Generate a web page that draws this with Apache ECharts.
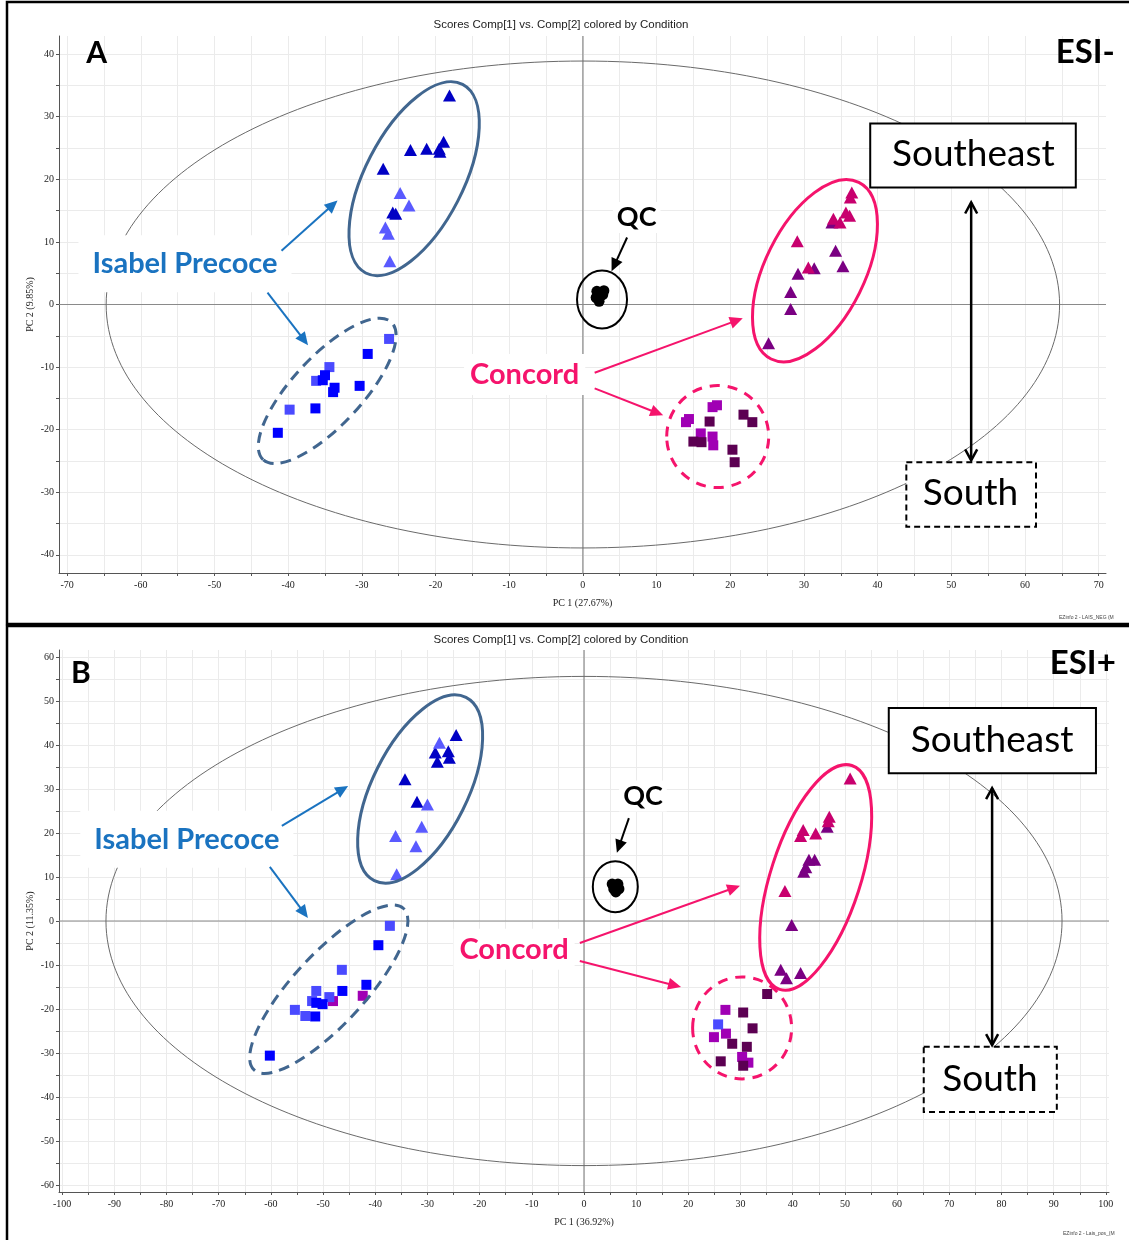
<!DOCTYPE html>
<html>
<head>
<meta charset="utf-8">
<script src="https://cdn.jsdelivr.net/npm/echarts@6/dist/echarts.min.js"></script>
<style>
  html, body { margin: 0; padding: 0; background: #fff; }
  #chart { width: 1129px; height: 1240px; }
</style>
</head>
<body>
<div id="chart"></div>
<script>
// ---------- Panel A : ESI- (PC1 27.67 %, PC2 9.85 %) ----------
const aIsabelTriDark  = [[-18.1,33.4],[-18.9,26.0],[-19.5,24.9],[-21.2,24.9],[-23.4,24.7],[-19.4,24.4],[-27.1,21.7],[-25.8,14.7],[-25.4,14.5]];
const aIsabelTriLight = [[-24.8,17.8],[-23.6,15.8],[-26.8,12.3],[-26.4,11.3],[-26.2,6.9]];
const aIsabelSqBlue   = [[-29.2,-7.9],[-35.0,-11.3],[-35.3,-12.1],[-33.7,-13.3],[-33.9,-14.0],[-30.3,-13.0],[-36.3,-16.6],[-41.4,-20.5]];
const aIsabelSqLight  = [[-26.3,-5.5],[-34.4,-10.0],[-36.2,-12.2],[-39.8,-16.8]];
const aConcordTriPurple  = [[33.8,13.1],[34.3,8.6],[31.4,5.8],[29.2,4.9],[35.3,6.1],[28.2,2.0],[28.2,-0.7],[25.2,-6.2]];
const aConcordTriCrimson = [[36.5,17.9],[36.3,17.1],[35.7,14.7],[36.2,14.2],[34.0,13.7],[34.9,13.1],[29.1,10.1],[30.6,5.9]];
const aConcordSqMagenta  = [[18.2,-16.1],[17.6,-16.4],[14.4,-18.3],[14.0,-18.8],[16.0,-20.6],[17.6,-21.1],[17.7,-22.5]];
const aConcordSqDark     = [[17.2,-18.7],[21.8,-17.6],[23.0,-18.8],[15.0,-21.9],[16.1,-22.0],[20.3,-23.2],[20.6,-25.2]];
const aQC = [[1.9,2.1],[2.85,2.2],[2.4,1.4],[1.8,1.1],[2.2,0.5],[2.7,1.6]];

// ---------- Panel B : ESI+ (PC1 36.92 %, PC2 11.35 %) ----------
const bIsabelTriDark  = [[-24.5,42.3],[-28.5,38.3],[-26.0,38.6],[-25.8,37.1],[-28.1,36.2],[-34.3,32.2],[-32.0,27.1]];
const bIsabelTriLight = [[-27.7,40.5],[-30.0,26.5],[-31.1,21.4],[-36.1,19.3],[-32.2,17.0],[-35.9,10.6]];
const bIsabelSqMagenta = [[-42.4,-17.0],[-48.1,-18.2]];
const bIsabelSqBlue   = [[-39.4,-5.5],[-41.7,-14.5],[-46.3,-15.9],[-51.3,-18.6],[-50.1,-18.9],[-51.5,-21.7],[-60.2,-30.6]];
const bIsabelSqLight  = [[-37.2,-1.1],[-46.4,-11.1],[-48.8,-17.3],[-51.3,-15.9],[-52.1,-18.2],[-55.4,-20.2],[-53.4,-21.6]];
const bConcordTriPurple  = [[46.6,21.4],[44.2,13.9],[43.1,13.9],[42.5,12.2],[42.1,11.2],[39.8,-0.9],[37.7,-11.1],[38.8,-13.0],[41.5,-11.8]];
const bConcordTriCrimson = [[51.0,32.4],[47.0,23.7],[46.8,22.7],[44.4,19.9],[42.0,20.7],[41.5,19.3],[38.5,6.8]];
const bConcordSqMagenta  = [[27.1,-20.2],[27.2,-25.6],[24.9,-26.4],[30.3,-30.9],[31.5,-32.2]];
const bConcordSqDark     = [[35.1,-16.6],[30.5,-20.8],[32.3,-24.4],[28.4,-27.9],[31.2,-28.6],[30.5,-32.9],[26.2,-31.9]];
const bConcordSqLight    = [[25.7,-23.5]];
const bQC = [[5.4,8.4],[6.5,8.4],[5.7,7.3],[6.7,7.3],[6.1,6.6]];

// ---------- axis ticks and labels ----------
const xLabelsA = [-70,-60,-50,-40,-30,-20,-10,0,10,20,30,40,50,60,70];
const xTicksA  = [-70,-65,-60,-55,-50,-45,-40,-35,-30,-25,-20,-15,-10,-5,0,5,10,15,20,25,30,35,40,45,50,55,60,65,70];
const yLabelsA = [-40,-30,-20,-10,0,10,20,30,40];
const yTicksA  = [-40,-35,-30,-25,-20,-15,-10,-5,0,5,10,15,20,25,30,35,40];
const xLabelsB = [-100,-90,-80,-70,-60,-50,-40,-30,-20,-10,0,10,20,30,40,50,60,70,80,90,100];
const xTicksB  = [-100,-95,-90,-85,-80,-75,-70,-65,-60,-55,-50,-45,-40,-35,-30,-25,-20,-15,-10,-5,0,5,10,15,20,25,30,35,40,45,50,55,60,65,70,75,80,85,90,95,100];
const yLabelsB = [-60,-50,-40,-30,-20,-10,0,10,20,30,40,50,60];
const yTicksB  = [-60,-55,-50,-45,-40,-35,-30,-25,-20,-15,-10,-5,0,5,10,15,20,25,30,35,40,45,50,55,60];

// Hotelling T2 ellipse semi-axes (score units)
const hotellingA = [64.7, 38.9];
const hotellingB = [91.6, 55.6];

// ---------- colours ----------
const C = {
  triDark: '#0000c4', triLight: '#5a5aff',
  sqBlue: '#0000ff', sqLight: '#4a4aff',
  crimson: '#c8006e', purple: '#7a0082',
  magenta: '#a000b4', darkPurple: '#5c0052',
  cluster: '#41668f', concord: '#f5146c', isabel: '#1a73c0'
};
const LABEL_FONT = 'Lato, "Liberation Sans", sans-serif';

// ---------- annotation layouts (anchored in score coordinates) ----------
const annotA = {
  ellipses: [
    { c: [-22.9, 20.1], rx: 106, ry: 49,  rot: 62.8, color: C.cluster, w: 3 },
    { c: [-34.7, -13.8], rx: 94, ry: 34.5, rot: 47, color: C.cluster, w: 3, dash: [11, 7] },
    { c: [31.5, 5.4],  rx: 98.6, ry: 49.7, rot: 63.6, color: C.concord, w: 3 },
    { c: [18.3, -21.1], rx: 51, ry: 51, rot: 0, color: C.concord, w: 3, dash: [10, 8] },
    { c: [2.6, 0.8], rx: 25, ry: 29, rot: 0, color: '#000', w: 2 }
  ],
  boxes: [
    { from: [39.0, 28.9], to: [66.9, 18.7] },
    { from: [43.9, -25.2], to: [61.5, -35.5], dash: [6, 4] }
  ],
  labels: [
    { text: 'A', at: [-66.0, 40.1], size: 30, bold: true, color: '#000' },
    { text: 'ESI-', at: [72.2, 40.3], size: 33, bold: true, color: '#000', align: 'right' },
    { text: 'Isabel Precoce', at: [-54.0, 6.5], size: 29, bold: true, color: C.isabel, bg: true, pad: [14, 14] },
    { text: 'QC', at: [7.3, 13.9], size: 27, bold: true, color: '#000', bg: true, pad: [2, 4] },
    { text: 'Concord', at: [-7.9, -11.2], size: 29, bold: true, color: C.concord, bg: true, pad: [6, 6] },
    { text: 'Southeast', at: [53.0, 24.0], size: 37, color: '#000' },
    { text: 'South', at: [52.6, -30.2], size: 37, color: '#000' }
  ],
  arrows: [
    { from: [-40.9, 8.6], to: [-33.3, 16.6], color: C.isabel },
    { from: [-42.8, 1.9], to: [-37.3, -6.5], color: C.isabel },
    { from: [6.0, 10.7], to: [3.9, 5.3], color: '#000' },
    { from: [1.6, -10.9], to: [21.7, -2.2], color: C.concord },
    { from: [1.6, -13.4], to: [10.9, -17.7], color: C.concord },
    { from: [52.7, 16.3], to: [52.7, -24.9], color: '#000', both: true }
  ]
};

const annotB = {
  ellipses: [
    { c: [-31.4, 30.0], rx: 102.4, ry: 47.5, rot: 63.4, color: C.cluster, w: 3 },
    { c: [-48.9, -15.5], rx: 110, ry: 35.4, rot: 47.2, color: C.cluster, w: 3, dash: [11, 7] },
    { c: [44.4, 9.9], rx: 117.6, ry: 44.9, rot: 72.1, color: C.concord, w: 3 },
    { c: [30.3, -24.3], rx: 49.5, ry: 51, rot: 0, color: C.concord, w: 3, dash: [10, 8] },
    { c: [6.0, 7.8], rx: 22.5, ry: 25.5, rot: 0, color: '#000', w: 2 }
  ],
  boxes: [
    { from: [58.4, 48.4], to: [98.1, 33.6] },
    { from: [65.1, -28.6], to: [90.6, -43.4], dash: [6, 4] }
  ],
  labels: [
    { text: 'B', at: [-96.4, 56.4], size: 30, bold: true, color: '#000' },
    { text: 'ESI+', at: [101.9, 58.6], size: 33, bold: true, color: '#000', align: 'right' },
    { text: 'Isabel Precoce', at: [-76.1, 18.6], size: 29, bold: true, color: C.isabel, bg: true, pad: [14, 14] },
    { text: 'QC', at: [11.3, 28.4], size: 27, bold: true, color: '#000', bg: true, pad: [2, 4] },
    { text: 'Concord', at: [-13.4, -6.4], size: 29, bold: true, color: C.concord, bg: true, pad: [6, 6] },
    { text: 'Southeast', at: [78.2, 41.1], size: 37, color: '#000' },
    { text: 'South', at: [77.8, -35.9], size: 37, color: '#000' }
  ],
  arrows: [
    { from: [-57.9, 21.6], to: [-45.2, 30.7], color: C.isabel },
    { from: [-60.2, 12.3], to: [-52.9, 0.7], color: C.isabel },
    { from: [8.6, 23.4], to: [6.3, 15.5], color: '#000' },
    { from: [-0.8, -5.0], to: [29.9, 8.0], color: C.concord },
    { from: [-0.8, -9.1], to: [18.6, -15.0], color: C.concord },
    { from: [78.2, 30.2], to: [78.2, -28.2], color: '#000', both: true }
  ]
};

// ---------- drawing helpers ----------
function ellipseEl(api, e) {
  const c = api.coord(e.c);
  return {
    type: 'ellipse', x: c[0], y: c[1], rotation: e.rot * Math.PI / 180,
    shape: { cx: 0, cy: 0, rx: e.rx, ry: e.ry },
    style: { fill: 'none', stroke: e.color, lineWidth: e.w, lineDash: e.dash || null }
  };
}
function boxEl(api, b) {
  const p = api.coord(b.from), q = api.coord(b.to);
  return {
    type: 'rect',
    shape: { x: Math.min(p[0], q[0]), y: Math.min(p[1], q[1]), width: Math.abs(q[0] - p[0]), height: Math.abs(q[1] - p[1]) },
    style: { fill: '#fff', stroke: '#000', lineWidth: 2, lineDash: b.dash || null }
  };
}
function labelEl(api, l) {
  const c = api.coord(l.at);
  const st = {
    text: l.text, fill: l.color, align: l.align || 'center', verticalAlign: 'middle',
    font: (l.bold ? 'bold ' : '') + l.size + 'px ' + LABEL_FONT
  };
  if (l.bg) { st.backgroundColor = '#fff'; st.padding = l.pad; }
  return { type: 'text', x: c[0], y: c[1], style: st };
}
function headPoints(tip, ang, len, half) {
  const bx = tip[0] - Math.cos(ang) * len, by = tip[1] - Math.sin(ang) * len;
  const px = -Math.sin(ang) * half, py = Math.cos(ang) * half;
  return [[tip[0], tip[1]], [bx + px, by + py], [bx - px, by - py]];
}
function arrowEls(api, a) {
  const p0 = api.coord(a.from), p1 = api.coord(a.to);
  const ang = Math.atan2(p1[1] - p0[1], p1[0] - p0[0]);
  const els = [];
  if (a.both) {
    els.push({ type: 'line', shape: { x1: p0[0], y1: p0[1], x2: p1[0], y2: p1[1] },
      style: { stroke: a.color, lineWidth: 2.5 } });
    const h1 = headPoints(p1, ang, 11, 6), h0 = headPoints(p0, ang + Math.PI, 11, 6);
    [h0, h1].forEach(h => els.push({ type: 'polyline', shape: { points: [h[1], h[0], h[2]] },
      style: { stroke: a.color, lineWidth: 2.5, fill: 'none' } }));
  } else {
    const len = 13, half = 6;
    const ex = p1[0] - Math.cos(ang) * len * 0.8, ey = p1[1] - Math.sin(ang) * len * 0.8;
    els.push({ type: 'line', shape: { x1: p0[0], y1: p0[1], x2: ex, y2: ey },
      style: { stroke: a.color, lineWidth: 2 } });
    els.push({ type: 'polygon', shape: { points: headPoints(p1, ang, len, half) },
      style: { fill: a.color } });
  }
  return els;
}

// zero lines + Hotelling ellipse, beneath the scores
function baseLayer(hot, xr, yr) {
  return function (params, api) {
    const o = api.coord([0, 0]);
    const ax = api.coord([hot[0], 0]), ay = api.coord([0, hot[1]]);
    const l = api.coord([xr[0], 0]), r = api.coord([xr[1], 0]);
    const t = api.coord([0, yr[1]]), b = api.coord([0, yr[0]]);
    return { type: 'group', children: [
      { type: 'line', shape: { x1: l[0], y1: o[1], x2: r[0], y2: o[1] }, style: { stroke: '#8a8a8a', lineWidth: 1.2 } },
      { type: 'line', shape: { x1: o[0], y1: t[1], x2: o[0], y2: b[1] }, style: { stroke: '#8a8a8a', lineWidth: 1.2 } },
      { type: 'ellipse', shape: { cx: o[0], cy: o[1], rx: Math.abs(ax[0] - o[0]), ry: Math.abs(ay[1] - o[1]) },
        style: { fill: 'none', stroke: '#6a6a6a', lineWidth: 1 } }
    ] };
  };
}
function annotationLayer(spec) {
  return function (params, api) {
    const children = [];
    spec.ellipses.forEach(e => children.push(ellipseEl(api, e)));
    spec.boxes.forEach(b => children.push(boxEl(api, b)));
    spec.labels.forEach(l => children.push(labelEl(api, l)));
    spec.arrows.forEach(a => arrowEls(api, a).forEach(el => children.push(el)));
    return { type: 'group', children };
  };
}

// ---------- axes ----------
const tickFont = { fontFamily: '"Liberation Serif", serif', fontSize: 10, color: '#222' };
function xAxisCfg(gi, range, ticks, labels, name) {
  return {
    type: 'value', gridIndex: gi, min: range[0], max: range[1],
    name, nameLocation: 'middle', nameGap: 25, nameTextStyle: tickFont,
    axisLine: { onZero: false, lineStyle: { color: '#555', width: 1 } },
    axisTick: { show: true, length: 3, customValues: ticks, lineStyle: { color: '#555' } },
    axisLabel: Object.assign({ customValues: labels, margin: 7 }, tickFont),
    splitLine: { show: true, lineStyle: { color: '#ebebeb', width: 1 } }
  };
}
function yAxisCfg(gi, range, ticks, labels, name) {
  return {
    type: 'value', gridIndex: gi, min: range[0], max: range[1],
    name, nameLocation: 'middle', nameGap: 24, nameRotate: 90, nameMoveOverlap: false, nameTextStyle: tickFont,
    axisLine: { onZero: false, lineStyle: { color: '#555', width: 1 } },
    axisTick: { show: true, length: 3, customValues: ticks, lineStyle: { color: '#555' } },
    axisLabel: Object.assign({ customValues: labels, margin: 5 }, tickFont),
    splitLine: { show: true, lineStyle: { color: '#ebebeb', width: 1 } }
  };
}
const xRangeA = [-71.1, 71.0], yRangeA = [-42.9, 42.9];
const xRangeB = [-100.6, 100.6], yRangeB = [-61.6, 61.6];

function scatter(name, data, symbol, size, color, gi) {
  return { type: 'scatter', name, data, symbol, symbolSize: size, xAxisIndex: gi, yAxisIndex: gi,
    itemStyle: { color, opacity: 1 }, z: 2, silent: true };
}
const TRI = [13, 12], SQ = 10, DOT = 11;

const series = [
  { type: 'custom', xAxisIndex: 0, yAxisIndex: 0, data: [[0, 0]], z: 1, silent: true,
    renderItem: baseLayer(hotellingA, xRangeA, yRangeA) },
  { type: 'custom', xAxisIndex: 1, yAxisIndex: 1, data: [[0, 0]], z: 1, silent: true,
    renderItem: baseLayer(hotellingB, xRangeB, yRangeB) },

  scatter('Isabel Precoce SE a', aIsabelTriDark, 'triangle', TRI, C.triDark, 0),
  scatter('Isabel Precoce SE b', aIsabelTriLight, 'triangle', TRI, C.triLight, 0),
  scatter('Isabel Precoce S a', aIsabelSqLight, 'rect', SQ, C.sqLight, 0),
  scatter('Isabel Precoce S b', aIsabelSqBlue, 'rect', SQ, C.sqBlue, 0),
  scatter('Concord SE a', aConcordTriPurple, 'triangle', TRI, C.purple, 0),
  scatter('Concord SE b', aConcordTriCrimson, 'triangle', TRI, C.crimson, 0),
  scatter('Concord S a', aConcordSqMagenta, 'rect', SQ, C.magenta, 0),
  scatter('Concord S b', aConcordSqDark, 'rect', SQ, C.darkPurple, 0),
  scatter('QC', aQC, 'circle', DOT, '#000', 0),

  scatter('Isabel Precoce SE a', bIsabelTriDark, 'triangle', TRI, C.triDark, 1),
  scatter('Isabel Precoce SE b', bIsabelTriLight, 'triangle', TRI, C.triLight, 1),
  scatter('Isabel Precoce S c', bIsabelSqMagenta, 'rect', SQ, C.magenta, 1),
  scatter('Isabel Precoce S a', bIsabelSqLight, 'rect', SQ, C.sqLight, 1),
  scatter('Isabel Precoce S b', bIsabelSqBlue, 'rect', SQ, C.sqBlue, 1),
  scatter('Concord SE a', bConcordTriPurple, 'triangle', TRI, C.purple, 1),
  scatter('Concord SE b', bConcordTriCrimson, 'triangle', TRI, C.crimson, 1),
  scatter('Concord S a', bConcordSqMagenta, 'rect', SQ, C.magenta, 1),
  scatter('Concord S b', bConcordSqDark, 'rect', SQ, C.darkPurple, 1),
  scatter('Concord S c', bConcordSqLight, 'rect', SQ, C.sqLight, 1),
  scatter('QC', bQC, 'circle', DOT, '#000', 1),

  { type: 'custom', xAxisIndex: 0, yAxisIndex: 0, data: [[0, 0]], z: 3, silent: true,
    renderItem: annotationLayer(annotA) },
  { type: 'custom', xAxisIndex: 1, yAxisIndex: 1, data: [[0, 0]], z: 3, silent: true,
    renderItem: annotationLayer(annotB) }
];

const titleStyle = { font: '11.5px "Liberation Sans", Arial, sans-serif', fill: '#222', align: 'center', verticalAlign: 'middle' };
const smallStyle = { font: '5px "Liberation Sans", Arial, sans-serif', fill: '#444', verticalAlign: 'middle' };

const option = {
  animation: false,
  backgroundColor: '#fff',
  grid: [
    { left: 59, top: 36, width: 1047, height: 537 },
    { left: 59, top: 650, width: 1050, height: 542 }
  ],
  xAxis: [
    xAxisCfg(0, xRangeA, xTicksA, xLabelsA, 'PC 1 (27.67%)'),
    xAxisCfg(1, xRangeB, xTicksB, xLabelsB, 'PC 1 (36.92%)')
  ],
  yAxis: [
    yAxisCfg(0, yRangeA, yTicksA, yLabelsA, 'PC 2 (9.85%)'),
    yAxisCfg(1, yRangeB, yTicksB, yLabelsB, 'PC 2 (11.35%)')
  ],
  graphic: [
    { type: 'rect', shape: { x: 7, y: 2, width: 1140, height: 622 }, style: { fill: 'none', stroke: '#000', lineWidth: 2.5 }, z: 10 },
    { type: 'rect', shape: { x: 7, y: 626, width: 1140, height: 630 }, style: { fill: 'none', stroke: '#000', lineWidth: 2.5 }, z: 10 },
    { type: 'text', x: 561, y: 25, style: Object.assign({ text: 'Scores Comp[1] vs. Comp[2] colored by Condition' }, titleStyle) },
    { type: 'text', x: 561, y: 640, style: Object.assign({ text: 'Scores Comp[1] vs. Comp[2] colored by Condition' }, titleStyle) },
    { type: 'text', x: 1059, y: 618, style: Object.assign({ text: 'EZinfo 2 - LAIS_NEG (M' }, smallStyle) },
    { type: 'text', x: 1063, y: 1234, style: Object.assign({ text: 'EZinfo 2 - Lais_pos_(M' }, smallStyle) }
  ],
  series
};

const chart = echarts.init(document.getElementById('chart'), null, { renderer: 'canvas' });
chart.setOption(option);
</script>
</body>
</html>
